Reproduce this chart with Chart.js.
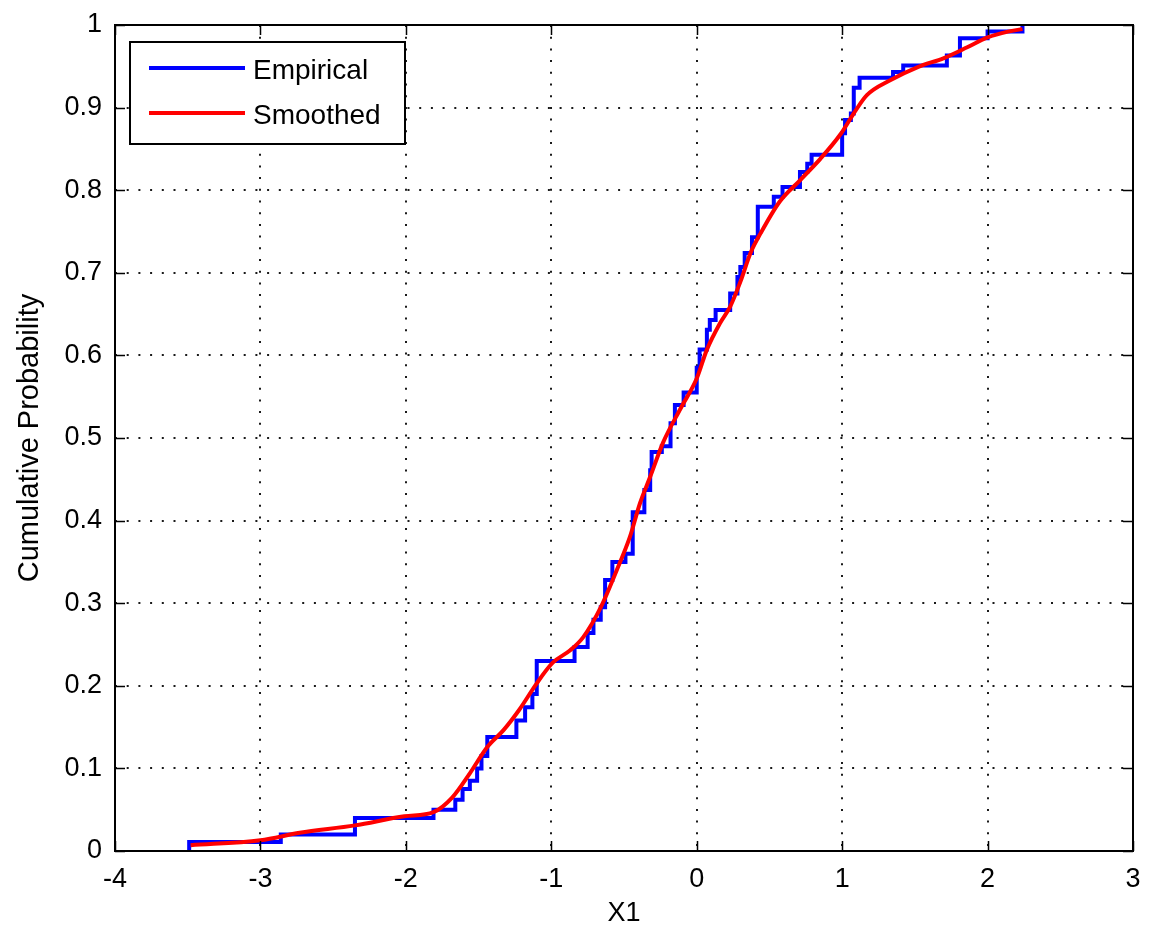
<!DOCTYPE html>
<html>
<head>
<meta charset="utf-8">
<title>Cumulative Probability</title>
<script src="https://cdn.jsdelivr.net/npm/chart.js@4.4.0/dist/chart.umd.min.js"></script>
<style>
  html, body { margin: 0; padding: 0; background: #fff; }
  #wrap { width: 1149px; height: 936px; }
</style>
</head>
<body>
<div id="wrap"><canvas id="cdf"></canvas></div>
<script>
// empirical CDF: jump position and level reached after the jump
const empX = [-3.49, -3.49, -2.86, -2.35, -1.81, -1.66, -1.61, -1.56, -1.51, -1.48,
              -1.44, -1.24, -1.18, -1.13, -1.10, -0.84, -0.75, -0.71, -0.66, -0.63,
              -0.58, -0.49, -0.44, -0.36, -0.32, -0.31, -0.24, -0.18, -0.15, -0.09,
               0.00,  0.02,  0.07,  0.09,  0.13,  0.23,  0.28,  0.30,  0.33,  0.38,
               0.42,  0.53,  0.59,  0.71,  0.76,  0.79,  1.00,  1.02,  1.06,  1.08,
               1.12,  1.35,  1.42,  1.72,  1.81,  2.00,  2.24];
const empY = [0, 0.011, 0.02, 0.04, 0.05, 0.062, 0.075, 0.085, 0.10, 0.115,
              0.138, 0.158, 0.174, 0.19, 0.23, 0.247, 0.264, 0.28, 0.295, 0.328,
              0.35, 0.36, 0.41, 0.437, 0.461, 0.483, 0.49, 0.518, 0.54, 0.555,
              0.585, 0.607, 0.631, 0.643, 0.655, 0.675, 0.695, 0.707, 0.724, 0.743,
              0.78, 0.792, 0.804, 0.822, 0.832, 0.843, 0.869, 0.885, 0.893, 0.924,
              0.936, 0.943, 0.951, 0.963, 0.984, 0.992, 1.0];

// kernel smoothed CDF
const smoothX = [-3.48, -3.00, -2.73, -2.35, -2.01, -1.81, -1.68, -1.56, -1.44, -1.33,
                 -1.22, -1.10, -0.99, -0.87, -0.78, -0.66, -0.55, -0.46, -0.39, -0.32,
                 -0.23, -0.11,  0.00,  0.07,  0.16,  0.23,  0.30,  0.37,  0.44,  0.57,
                  0.71,  0.85,  0.99,  1.08,  1.17,  1.33,  1.52,  1.70,  1.86,  2.00,
                  2.14,  2.24];
const smoothY = [0.007, 0.013, 0.022, 0.031, 0.042, 0.047, 0.065, 0.094, 0.126, 0.146,
                 0.171, 0.203, 0.228, 0.243, 0.259, 0.295, 0.34, 0.38, 0.421, 0.453,
                 0.495, 0.536, 0.572, 0.607, 0.639, 0.659, 0.689, 0.724, 0.748, 0.786,
                 0.812, 0.838, 0.868, 0.893, 0.915, 0.933, 0.949, 0.96, 0.973, 0.985,
                 0.992, 0.995];

const xTicks = [-4, -3, -2, -1, 0, 1, 2, 3];
const yTicks = [0, 0.1, 0.2, 0.3, 0.4, 0.5, 0.6, 0.7, 0.8, 0.9, 1];

const FONT = '"Liberation Sans", Arial, sans-serif';
const toPts = (xs, ys) => xs.map((x, i) => ({ x, y: ys[i] }));

// matlab style box: frame plus inward ticks on all four sides
const boxAxes = {
  id: 'boxAxes',
  afterDatasetsDraw(chart) {
    const { ctx, chartArea: a, scales } = chart;
    const len = 10;
    ctx.save();
    ctx.strokeStyle = '#000';
    ctx.lineWidth = 1.5;
    ctx.beginPath();
    xTicks.forEach(v => {
      const px = Math.round(scales.x.getPixelForValue(v)) + 0.5;
      ctx.moveTo(px, a.bottom); ctx.lineTo(px, a.bottom - len);
      ctx.moveTo(px, a.top); ctx.lineTo(px, a.top + len);
    });
    yTicks.forEach(v => {
      const py = Math.round(scales.y.getPixelForValue(v)) + 0.5;
      ctx.moveTo(a.left, py); ctx.lineTo(a.left + len, py);
      ctx.moveTo(a.right, py); ctx.lineTo(a.right - len, py);
    });
    ctx.stroke();
    ctx.lineWidth = 2;
    ctx.strokeRect(a.left, a.top, a.right - a.left, a.bottom - a.top);
    ctx.restore();
  }
};

// boxed legend in the upper left corner of the axes
const boxLegend = {
  id: 'boxLegend',
  afterDraw(chart) {
    const { ctx, chartArea: a } = chart;
    const x0 = a.left + 15, y0 = a.top + 17, w = 275, h = 102;
    ctx.save();
    ctx.fillStyle = '#fff';
    ctx.fillRect(x0, y0, w, h);
    ctx.strokeStyle = '#000';
    ctx.lineWidth = 2;
    ctx.strokeRect(x0, y0, w, h);
    ctx.font = '28px ' + FONT;
    ctx.textBaseline = 'middle';
    chart.data.datasets.forEach((ds, i) => {
      const ly = y0 + 26 + i * 45;
      ctx.strokeStyle = ds.borderColor;
      ctx.lineWidth = 4;
      ctx.beginPath();
      ctx.moveTo(x0 + 19, ly);
      ctx.lineTo(x0 + 115, ly);
      ctx.stroke();
      ctx.fillStyle = '#000';
      ctx.fillText(ds.label, x0 + 123, ly + 3);
    });
    ctx.restore();
  }
};

new Chart(document.getElementById('cdf'), {
  type: 'scatter',
  data: {
    datasets: [
      {
        label: 'Empirical',
        data: toPts(empX, empY),
        showLine: true,
        stepped: 'before',
        borderColor: '#0000ff',
        borderWidth: 4,
        pointRadius: 0,
        order: 1
      },
      {
        label: 'Smoothed',
        data: toPts(smoothX, smoothY),
        showLine: true,
        cubicInterpolationMode: 'monotone',
        borderColor: '#ff0000',
        borderWidth: 4,
        pointRadius: 0,
        order: 0
      }
    ]
  },
  options: {
    responsive: true,
    maintainAspectRatio: false,
    animation: false,
    devicePixelRatio: 1,
    layout: { padding: { top: 25, right: 16, left: 0, bottom: 0 } },
    plugins: { legend: { display: false }, tooltip: { enabled: false } },
    scales: {
      x: {
        type: 'linear',
        min: -4, max: 3,
        afterBuildTicks: s => { s.ticks = xTicks.map(v => ({ value: v })); },
        afterFit: s => { s.height = 85; s.paddingLeft = 0; s.paddingRight = 0; },
        grid: { color: '#1a1a1a', lineWidth: 2, drawTicks: false },
        border: { display: false, dash: [2, 9.7] },
        ticks: { color: '#000', font: { family: FONT, size: 27 }, padding: 12, callback: v => String(v) },
        title: { display: true, text: 'X1', color: '#000', font: { family: FONT, size: 27 }, padding: { top: 0, bottom: 6 } }
      },
      y: {
        type: 'linear',
        min: 0, max: 1,
        afterBuildTicks: s => { s.ticks = yTicks.map(v => ({ value: v })); },
        afterFit: s => { s.width = 115; s.paddingTop = 0; s.paddingBottom = 0; },
        grid: { color: '#1a1a1a', lineWidth: 2, drawTicks: false },
        border: { display: false, dash: [2, 9.7] },
        ticks: { color: '#000', font: { family: FONT, size: 27 }, padding: 13, callback: v => String(+v.toFixed(1)) },
        title: { display: true, text: 'Cumulative Probability', color: '#000', font: { family: FONT, size: 29 }, padding: { top: 13, bottom: 0 } }
      }
    }
  },
  plugins: [boxAxes, boxLegend]
});
</script>
</body>
</html>
